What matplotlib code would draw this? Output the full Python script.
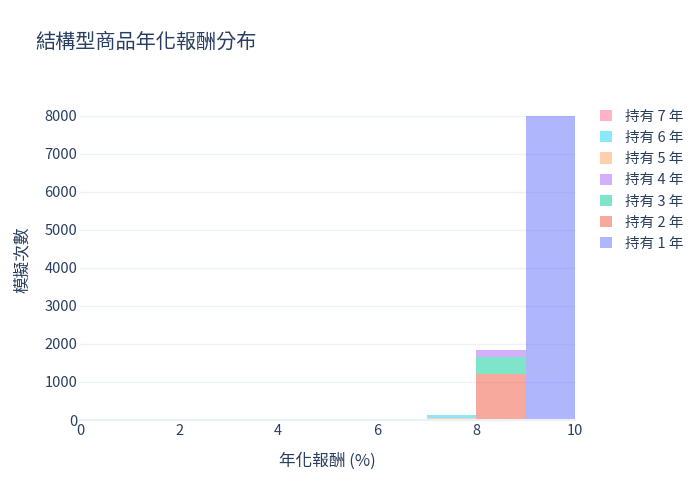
import matplotlib
matplotlib.use("Agg")
import matplotlib.pyplot as plt
from matplotlib.patches import Patch
import numpy as np

plt.rcParams['font.family'] = ['Noto Sans CJK TC', 'DejaVu Sans']

bin_edges = [0, 1, 2, 3, 4, 5, 6, 7, 8, 9, 10]
series_names = ["持有 1 年", "持有 2 年", "持有 3 年", "持有 4 年", "持有 5 年", "持有 6 年", "持有 7 年"]
counts = {
    "持有 1 年": [0, 0, 0, 0, 0, 0, 0, 0, 0, 8000],
    "持有 2 年": [0, 0, 0, 0, 0, 0, 0, 0, 1220, 0],
    "持有 3 年": [0, 0, 0, 0, 0, 0, 0, 0, 430, 0],
    "持有 4 年": [0, 0, 0, 0, 0, 0, 0, 0, 190, 0],
    "持有 5 年": [0, 0, 0, 0, 0, 0, 0, 55, 0, 0],
    "持有 6 年": [0, 0, 0, 0, 0, 0, 0, 75, 0, 0],
    "持有 7 年": [0, 12, 0, 0, 0, 0, 0, 0, 0, 0],
}
colors = ["#636efa", "#EF553B", "#00cc96", "#ab63fa", "#FFA15A", "#19d3f3", "#FF6692"]
x_ticks = [0, 2, 4, 6, 8, 10]
y_ticks = [0, 1000, 2000, 3000, 4000, 5000, 6000, 7000, 8000]

text_color = "#2a3f5f"
fig = plt.figure(figsize=(7, 5), dpi=100)
ax = fig.add_axes([80/700, 80/500, 495/700, 320/500])

lefts = np.array(bin_edges[:-1])
widths = np.diff(bin_edges)
bottom = np.zeros(len(lefts))
handles = []
for name, c in zip(series_names, colors):
    vals = np.array(counts[name], dtype=float)
    ax.bar(lefts, vals, width=widths, bottom=bottom, align='edge', color=c, alpha=0.5, linewidth=0)
    bottom += vals
    handles.append(Patch(facecolor=c, alpha=0.5, edgecolor='none', label=name))

ax.set_xlim(0, 10)
ax.set_ylim(0, 8421)
ax.set_xticks(x_ticks)
ax.set_yticks(y_ticks)
ax.tick_params(length=0, colors=text_color, labelsize=10.5)
ax.tick_params(axis='y', pad=2)
ax.tick_params(axis='x', pad=3)
ax.grid(True, axis='y', color='#EEF1F6', linewidth=1)
ax.set_axisbelow(True)
for s in ['top', 'right', 'left']:
    ax.spines[s].set_visible(False)
ax.spines['bottom'].set_color('#EBF0F8')
ax.spines['bottom'].set_linewidth(1.5)

ax.set_xlabel("年化報酬 (%)", color=text_color, fontsize=12, labelpad=10)
ax.set_ylabel("模擬次數", color=text_color, fontsize=12, labelpad=10)
fig.text(35/700, 1-42/500, "結構型商品年化報酬分布", color=text_color, fontsize=14.5, va='center', ha='left')

leg = fig.legend(handles=handles[::-1], loc='upper left', bbox_to_anchor=(594/700, 1-104/500),
                 frameon=False, fontsize=10.5, handlelength=0.8, handleheight=0.8,
                 handletextpad=0.95, labelspacing=0.49, borderaxespad=0)
for t in leg.get_texts():
    t.set_color(text_color)

fig.savefig("out.png", dpi=100)
